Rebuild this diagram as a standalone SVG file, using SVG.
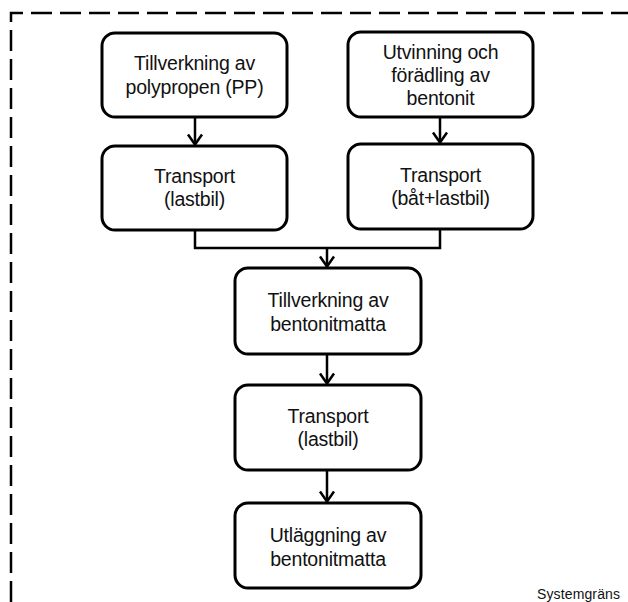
<svg xmlns="http://www.w3.org/2000/svg" width="628" height="602" viewBox="0 0 628 602">
  <style>
    .box { fill: #fff; stroke: #000; stroke-width: 3; }
    .lbl { font-family: "Liberation Sans", Arial, sans-serif; font-size: 19.5px; fill: #111; text-anchor: middle; letter-spacing: -0.2px; }
    .wire { fill: none; stroke: #000; stroke-width: 2.5; }
    .bound { fill: none; stroke: #000; stroke-width: 2.5; stroke-dasharray: 21 8; }
    .note { font-family: "Liberation Sans", Arial, sans-serif; font-size: 14px; fill: #111; }
  </style>
  <defs>
    <marker id="arr" markerUnits="userSpaceOnUse" markerWidth="24" markerHeight="24" viewBox="-12 -12 24 24" refX="0" refY="0" orient="auto-start-reverse">
      <path d="M-10,-7 L0,0 L-10,7" fill="none" stroke="#000" stroke-width="2.5"/>
    </marker>
  </defs>

  <!-- system boundary (top and left edges) -->
  <g id="boundary">
    <path class="bound" d="M11,602 L11,13 L628,13"/>
    <text class="note" x="537" y="599" textLength="83">Systemgräns</text>
  </g>

  <!-- connectors -->
  <g id="connectors">
    <line class="wire" x1="195" y1="117" x2="195" y2="144.5" marker-end="url(#arr)"/>
    <line class="wire" x1="440" y1="117" x2="440" y2="142.5" marker-end="url(#arr)"/>
    <path class="wire" d="M195,230 L195,248 L440,248 L440,229"/>
    <line class="wire" x1="327" y1="248" x2="327" y2="266.5" marker-end="url(#arr)"/>
    <line class="wire" x1="327" y1="354" x2="327" y2="383.5" marker-end="url(#arr)"/>
    <line class="wire" x1="327" y1="470" x2="327" y2="501.5" marker-end="url(#arr)"/>
  </g>

  <g id="pp">
    <rect class="box" x="102" y="33" width="185" height="84" rx="13"/>
    <text class="lbl" x="194.5" y="70">Tillverkning av</text>
    <text class="lbl" x="194.5" y="94">polypropen (PP)</text>
  </g>

  <g id="transport-pp">
    <rect class="box" x="102" y="146" width="185" height="84" rx="13"/>
    <text class="lbl" x="194.5" y="183">Transport</text>
    <text class="lbl" x="194.5" y="206">(lastbil)</text>
  </g>

  <g id="bentonit">
    <rect class="box" x="348" y="32" width="185" height="85" rx="13"/>
    <text class="lbl" x="440.5" y="59">Utvinning och</text>
    <text class="lbl" x="440.5" y="82">förädling av</text>
    <text class="lbl" x="440.5" y="105">bentonit</text>
  </g>

  <g id="transport-bentonit">
    <rect class="box" x="348" y="144" width="185" height="85" rx="13"/>
    <text class="lbl" x="440.5" y="182">Transport</text>
    <text class="lbl" x="440.5" y="205">(båt+lastbil)</text>
  </g>

  <g id="tillverkning-matta">
    <rect class="box" x="235" y="268" width="186" height="86" rx="13"/>
    <text class="lbl" x="328" y="307">Tillverkning av</text>
    <text class="lbl" x="328" y="331">bentonitmatta</text>
  </g>

  <g id="transport-matta">
    <rect class="box" x="235" y="385" width="186" height="85" rx="13"/>
    <text class="lbl" x="328" y="423">Transport</text>
    <text class="lbl" x="328" y="446">(lastbil)</text>
  </g>

  <g id="utlaggning">
    <rect class="box" x="235" y="503" width="186" height="85" rx="13"/>
    <text class="lbl" x="328" y="542">Utläggning av</text>
    <text class="lbl" x="328" y="566">bentonitmatta</text>
  </g>
</svg>
